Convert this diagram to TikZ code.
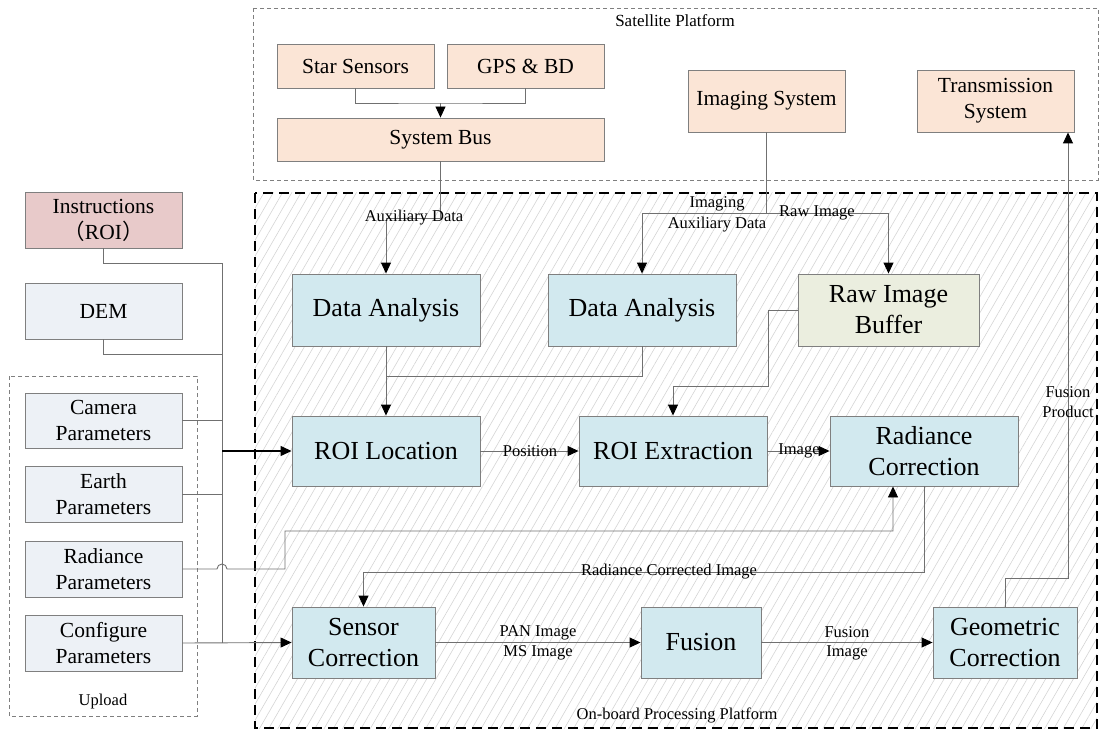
\documentclass[tikz,border=0pt]{standalone}
\usepackage{fontspec}
\setmainfont{Liberation Serif}
\newfontfamily\cjkfont{Noto Sans CJK SC}
\usetikzlibrary{arrows.meta,patterns.meta}
\definecolor{peach}{HTML}{FBE5D6}
\definecolor{procblue}{HTML}{D2E9EF}
\definecolor{roipink}{HTML}{E8CACA}
\definecolor{paramgray}{HTML}{EDF1F6}
\definecolor{buffergreen}{HTML}{EBEEDF}
\definecolor{boxline}{HTML}{7F7F7F}
\definecolor{wire}{HTML}{707070}
\definecolor{hatch}{HTML}{D4D4D4}
\newcommand\FBig{\fontsize{26}{31}\selectfont}
\newcommand\FMid{\fontsize{21.5}{26}\selectfont}
\newcommand\FLab{\fontsize{16.5}{21}\selectfont}
\begin{document}
\begin{tikzpicture}[x=1pt,y=-1pt,
  every node/.style={inner sep=0pt, align=center},
  blk/.style={draw=boxline, line width=0.9pt},
  wirestyle/.style={draw=wire, line width=0.9pt},
  arr/.style={wirestyle, -{Triangle[length=11pt,width=10pt,color=black,fill=black]}},
  lab/.style={font=\FLab},
  thin dash/.style={draw=boxline, line width=0.7pt, dash pattern=on 4pt off 3pt}
]
\useasboundingbox (0,0) rectangle (1102,730);

% platforms
\draw[thin dash] (253,8) rectangle (1098,180);
\node[font=\fontsize{17}{20}\selectfont] (satlab) at (675,21) {Satellite Platform};
\fill[pattern={Lines[angle=60,distance=8pt,line width=0.6pt]}, pattern color=hatch] (255,193) rectangle (1097,728);
\draw[line width=1.8pt, dash pattern=on 10pt off 6pt] (255,193) rectangle (1097,728);
\node[lab] (oblab) at (677,715) {On-board Processing Platform};
\draw[thin dash] (9,376) rectangle (197,716);
\node[lab] (uplab) at (103,702) {Upload};

% satellite boxes
\node[blk, fill=peach, minimum width=157pt, minimum height=44pt, font=\FMid] (star) at (355.5,66) {Star Sensors};
\node[blk, fill=peach, minimum width=157pt, minimum height=44pt, font=\FMid] (gps) at (525.5,66) {GPS \& BD};
\node[blk, fill=peach, minimum width=327pt, minimum height=43pt, font=\FMid] (bus) at (440.5,139.5) {System Bus};
\node[blk, fill=peach, minimum width=157pt, minimum height=62pt, font=\FMid] (imsys) at (766.5,101) {Imaging System};
\node[blk, fill=peach, minimum width=157pt, minimum height=62pt, font=\FMid] (trans) at (995.5,101) {Transmission\\System};

% left inputs
\node[blk, fill=roipink, minimum width=157pt, minimum height=56pt, font=\FMid] (instr) at (103.5,220) {Instructions\\{\cjkfont （}ROI{\cjkfont ）}};
\node[blk, fill=paramgray, minimum width=157pt, minimum height=56pt, font=\FMid] (dem) at (103.5,311) {DEM};
\node[blk, fill=paramgray, minimum width=157pt, minimum height=55pt, font=\FMid] (cam) at (103.5,420.5) {Camera\\Parameters};
\node[blk, fill=paramgray, minimum width=157pt, minimum height=56pt, font=\FMid] (earth) at (103.5,494) {Earth\\Parameters};
\node[blk, fill=paramgray, minimum width=157pt, minimum height=56pt, font=\FMid] (radp) at (103.5,569) {Radiance\\Parameters};
\node[blk, fill=paramgray, minimum width=157pt, minimum height=56pt, font=\FMid] (conf) at (103.5,643) {Configure\\Parameters};

% processing boxes
\node[blk, fill=procblue, minimum width=188pt, minimum height=72pt, font=\FBig] (da1) at (386,310) {Data Analysis};
\node[blk, fill=procblue, minimum width=188pt, minimum height=72pt, font=\FBig] (da2) at (642,310) {Data Analysis};
\node[blk, fill=buffergreen, minimum width=181pt, minimum height=72pt, font=\FBig] (rawbuf) at (888.5,310) {Raw Image\\Buffer};
\node[blk, fill=procblue, minimum width=188pt, minimum height=70pt, font=\FBig] (roiloc) at (386,451) {ROI Location};
\node[blk, fill=procblue, minimum width=188pt, minimum height=70pt, font=\FBig] (roiext) at (673,451) {ROI Extraction};
\node[blk, fill=procblue, minimum width=188pt, minimum height=70pt, font=\FBig] (radcor) at (924,451) {Radiance\\Correction};
\node[blk, fill=procblue, minimum width=143pt, minimum height=71pt, font=\FBig] (sencor) at (363.5,642.5) {Sensor\\Correction};
\node[blk, fill=procblue, minimum width=120pt, minimum height=71pt, font=\FBig] (fusion) at (701,642.5) {Fusion};
\node[blk, fill=procblue, minimum width=144pt, minimum height=71pt, font=\FBig] (geo) at (1005,642.5) {Geometric\\Correction};

% junction coordinates
\coordinate (busj) at (386,218);
\coordinate (imj) at (766.5,213);
\coordinate (daj) at (386,376);
\coordinate (rbj) at (768,386);
\coordinate (rcj) at (363.5,572);
\coordinate (geoj) at (1068,578);
\coordinate (rpj) at (285,531);
\coordinate (lbtop) at (222,263);
\coordinate (lbdem) at (222,354);
\coordinate (lbroi) at (222,451);
\coordinate (lbconf) at (222,643);

% satellite connectors
\draw[wirestyle] (star.south) |- (440.5,103) -| (gps.south);
\draw[arr] (440.5,103) -- (bus.north);
\draw[arr] (bus.south) |- (busj) -- (da1.north);
\draw[wirestyle] (imsys.south) -- (imj);
\draw[arr] (imj) -| (da2.north);
\draw[arr] (imj) -| (rawbuf.north);

% processing connectors
\draw[arr] (da1.south) -- (roiloc.north);
\draw[wirestyle] (da2.south) |- (daj);
\draw[arr] (rawbuf.west) -| (rbj) -| (roiext.north);
\draw[arr] (roiloc.east) -- (roiext.west);
\draw[arr] (roiext.east) -- (radcor.west);
\draw[arr] (radcor.south) |- (rcj) -- (sencor.north);
\draw[arr] (sencor.east) -- (fusion.west);
\draw[arr] (fusion.east) -- (geo.west);
\draw[arr] (geo.north) |- (geoj) -- ([xshift=72.5pt]trans.south);

% left connectors
\draw[wirestyle] (instr.south) |- (lbtop);
\draw[wirestyle] (dem.south) |- (lbdem);
\draw[wirestyle] (cam.east) -- (cam.east -| lbtop);
\draw[wirestyle] (earth.east) -- (earth.east -| lbtop);
\draw[wirestyle] (lbtop) -- (lbconf);
\draw[arr, draw=black, line width=1.3pt] (lbroi) -- (roiloc.west);
\draw[arr] (conf.east) -- (sencor.west);
\draw[arr] (radp.east) -- (217,569) arc[start angle=180, end angle=0, radius=5pt] -- (rpj |- radp.east) -- (rpj) -| ([xshift=-31pt]radcor.south);

% labels
\node[lab] (l1) at (414,218) {Auxiliary Data};
\node[lab] (l2) at (717,204) {Imaging};
\node[lab] (l3) at (717,225) {Auxiliary Data};
\node[lab] (l4) at (817,213) {Raw Image};
\node[lab] (l5) at (530,451) {Position};
\node[lab] (l6) at (799,451) {Image};
\node[lab] (l7) at (669,572) {Radiance Corrected Image};
\node[lab] (l8) at (538,633) {PAN Image};
\node[lab] (l9) at (538,653) {MS Image};
\node[lab] (l10) at (847,632) {Fusion};
\node[lab] (l11) at (847,653) {Image};
\node[lab] (l12) at (1068,392) {Fusion};
\node[lab] (l13) at (1068,412) {Product};
\end{tikzpicture}
\end{document}
